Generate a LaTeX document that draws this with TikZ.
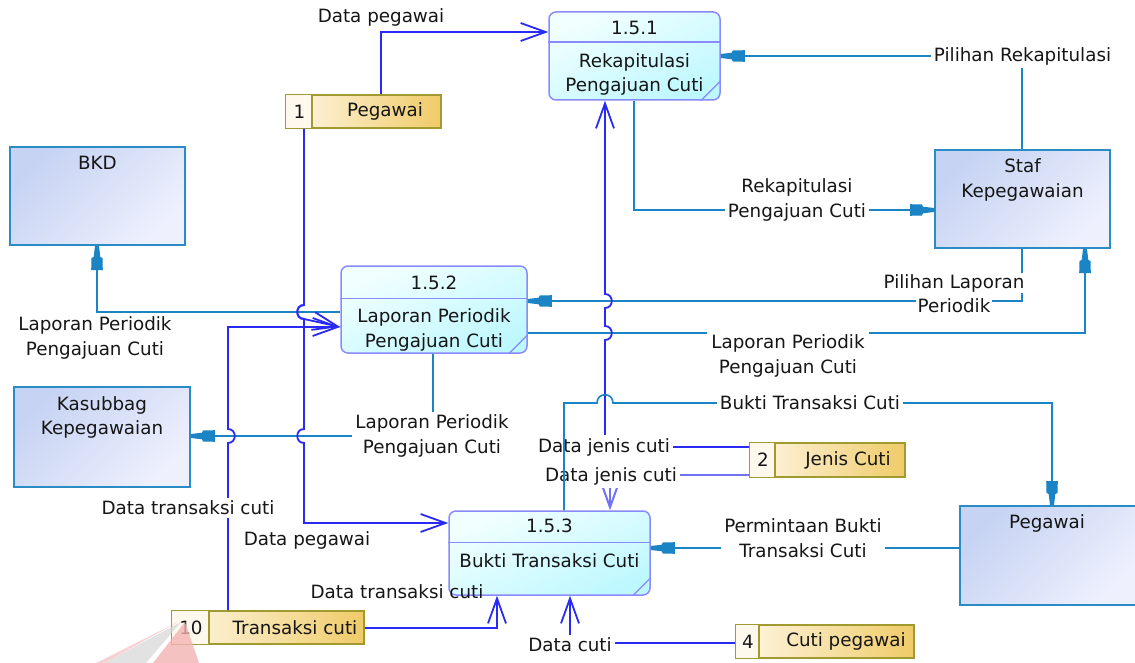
\documentclass[tikz,border=0pt]{standalone}
\usepackage{fontspec}
\newfontfamily\dv{DejaVu Sans}
\usetikzlibrary{arrows.meta,calc}

\definecolor{entline}{HTML}{2A8BC5}
\definecolor{entA}{HTML}{C6D3F3}
\definecolor{entB}{HTML}{EEF0FD}
\definecolor{procline}{HTML}{8A8AFF}
\definecolor{procA}{HTML}{F2FFFF}
\definecolor{procB}{HTML}{BEF8FF}
\definecolor{storeline}{HTML}{A09A30}
\definecolor{storeA}{HTML}{FFF7E6}
\definecolor{storeB}{HTML}{EFCB68}
\definecolor{numfill}{HTML}{FFF8EC}
\definecolor{flowblue}{HTML}{2A2AF6}
\definecolor{flowpale}{HTML}{7272F4}
\definecolor{flowcyan}{HTML}{1A84C4}
\definecolor{ink}{HTML}{161616}
\definecolor{wmpink}{HTML}{F3B3B3}
\definecolor{wmgray}{HTML}{D6D6D6}

% filled data-flow tip: tapered neck at the point, wide block behind it
\pgfdeclarearrow{
  name = PDtip,
  setup code = {
    \pgfarrowssettipend{24pt}
    \pgfarrowssetlineend{20pt}
    \pgfarrowshullpoint{24pt}{2.2pt}
    \pgfarrowshullpoint{24pt}{-2.2pt}
    \pgfarrowshullpoint{0pt}{5.8pt}
    \pgfarrowshullpoint{0pt}{-5.8pt}
  },
  drawing code = {
    \pgfpathmoveto{\pgfqpoint{24pt}{2.0pt}}
    \pgfpathlineto{\pgfqpoint{13pt}{3.3pt}}
    \pgfpathlineto{\pgfqpoint{12pt}{5.5pt}}
    \pgfpathlineto{\pgfqpoint{0pt}{5.8pt}}
    \pgfpathlineto{\pgfqpoint{0pt}{-5.8pt}}
    \pgfpathlineto{\pgfqpoint{12pt}{-5.5pt}}
    \pgfpathlineto{\pgfqpoint{13pt}{-3.3pt}}
    \pgfpathlineto{\pgfqpoint{24pt}{-2.0pt}}
    \pgfpathclose
    \pgfusepathqfill
  }
}

\newcommand\wbox[1]{{\setlength\fboxsep{1.5pt}\colorbox{white}{#1}}}

\begin{document}
\begin{tikzpicture}[x=1pt,y=-1pt,
  every node/.style={font=\dv\fontsize{18.3pt}{24.5pt}\selectfont, text=ink},
  entity/.style={draw=entline, line width=2pt, top color=entA, bottom color=entB, shading angle=45, inner sep=0pt},
  process/.style={draw=procline, line width=1.5pt, rounded corners=7pt, top color=procA, bottom color=procB, shading angle=25, inner sep=0pt},
  procsep/.style={draw=procline, line width=1.5pt},
  procfold/.style={draw=procline, line width=1.2pt},
  storebox/.style={draw=storeline, line width=2pt, left color=storeA, right color=storeB, inner sep=0pt},
  storesep/.style={draw=storeline, line width=2pt},
  txt/.style={inner sep=0pt, align=center},
  lbl/.style={inner sep=1pt, align=center},
  lblw/.style={lbl, fill=white, inner sep=3pt},
  fb/.style={draw=flowblue, line width=1.8pt},
  fbp/.style={draw=flowpale, line width=2pt},
  fc/.style={draw=flowcyan, line width=1.6pt},
  openarr/.style={-{Straight Barb[length=25pt,width=18pt]}},
  solidarr/.style={-{PDtip}}
]
\path[use as bounding box, fill=white] (0,0) rectangle (1135,663);

% ---------- external entities ----------
\node[entity, minimum width=175pt, minimum height=98pt] (bkd) at (97.5,196) {};
\node[txt] (bkdT) at (97.5,163) {BKD};
\node[entity, minimum width=175pt, minimum height=98pt] (staf) at (1022.5,199) {};
\node[txt] (stafT) at (1022.5,180) {Staf\\Kepegawaian};
\node[entity, minimum width=176pt, minimum height=100pt] (kas) at (102,437) {};
\node[txt] (kasT) at (102,417.5) {Kasubbag\\Kepegawaian};
\node[entity, minimum width=178pt, minimum height=99pt] (pgw) at (1049,555.5) {};
\node[txt] (pgwT) at (1047,523) {Pegawai};

% ---------- processes ----------
\node[process, minimum width=171pt, minimum height=88pt] (p1) at (634.5,56) {};
\draw[procsep] ($(p1.north west)+(0,31)$) -- ($(p1.north east)+(0,31)$);
\draw[procfold] ($(p1.south east)+(-20,0)$) -- ($(p1.south east)+(0,-20)$);
\node[txt] (p1n) at (634.5,28) {1.5.1};
\node[txt] (p1d) at (634.5,74.5) {Rekapitulasi\\Pengajuan Cuti};

\node[process, minimum width=186pt, minimum height=87pt] (p2) at (434,309.5) {};
\draw[procsep] ($(p2.north west)+(0,33)$) -- ($(p2.north east)+(0,33)$);
\draw[procfold] ($(p2.south east)+(-19,0)$) -- ($(p2.south east)+(0,-19)$);
\node[txt] (p2n) at (434,283) {1.5.2};
\node[txt] (p2d) at (434,330) {Laporan Periodik\\Pengajuan Cuti};

\node[process, minimum width=201pt, minimum height=84pt] (p3) at (549.5,553) {};
\draw[procsep] ($(p3.north west)+(0,32)$) -- ($(p3.north east)+(0,32)$);
\draw[procfold] ($(p3.south east)+(-18,0)$) -- ($(p3.south east)+(0,-18)$);
\node[txt] (p3n) at (549.5,526) {1.5.3};
\node[txt] (p3d) at (549.5,561) {Bukti Transaksi Cuti};

% ---------- data stores ----------
\node[storebox, minimum width=155pt, minimum height=33pt] (s1) at (363.5,111.5) {};
\fill[numfill] ($(s1.north west)+(1,1)$) rectangle ($(s1.south west)+(27,-1)$);
\draw[storesep] ($(s1.north west)+(27,0)$) -- ($(s1.south west)+(27,0)$);
\node[txt] (s1n) at (299.5,111.5) {1};
\node[txt] (s1t) at (385,111.5) {Pegawai};

\node[storebox, minimum width=155pt, minimum height=34pt] (s2) at (827.5,460) {};
\fill[numfill] ($(s2.north west)+(1,1)$) rectangle ($(s2.south west)+(26,-1)$);
\draw[storesep] ($(s2.north west)+(26,0)$) -- ($(s2.south west)+(26,0)$);
\node[txt] (s2n) at (763,460) {2};
\node[txt] (s2t) at (848,460) {Jenis Cuti};

\node[storebox, minimum width=192pt, minimum height=33pt] (s10) at (268,627.5) {};
\fill[numfill] ($(s10.north west)+(1,1)$) rectangle ($(s10.south west)+(38,-1)$);
\draw[storesep] ($(s10.north west)+(38,0)$) -- ($(s10.south west)+(38,0)$);
\node[txt] (s10n) at (191,627.5) {10};
\node[txt] (s10t) at (295,627.5) {Transaksi cuti};

\node[storebox, minimum width=178pt, minimum height=33pt] (s4) at (825,641.5) {};
\fill[numfill] ($(s4.north west)+(1,1)$) rectangle ($(s4.south west)+(24,-1)$);
\draw[storesep] ($(s4.north west)+(24,0)$) -- ($(s4.south west)+(24,0)$);
\node[txt] (s4n) at (748,641.5) {4};
\node[txt] (s4t) at (846,641.5) {Cuti pegawai};

% ---------- bend and crossing points ----------
\coordinate (b1) at (381,32);
\coordinate (j1) at (304,312);
\coordinate (k2) at (341,327);
\coordinate (j2) at (304,436);
\coordinate (b3) at (304,523);
\coordinate (j3) at (228,436);
\coordinate (b4) at (228,327);
\coordinate (b5) at (97,312);
\coordinate (b6) at (433,436);
\coordinate (b7) at (634,210);
\coordinate (b8) at (1022,56);
\coordinate (b9) at (1022,301);
\coordinate (b10) at (1085,333);
\coordinate (b11) at (605,447);
\coordinate (j4) at (605,333);
\coordinate (j5) at (605,301);
\coordinate (b12a) at (564,403);
\coordinate (j6) at (605,403);
\coordinate (b12b) at (1052,403);
\coordinate (b13) at (610,475);
\coordinate (b14) at (960,548);
\coordinate (b15) at (497,628);
\coordinate (b16) at (570,643);

% ---------- flows to and from external entities ----------
\draw[fc, solidarr] (p2.west |- b5) -- (b5) -- (bkd.south -| b5);
\node[lbl] (l5) at (95,338) {Laporan Periodik\\Pengajuan Cuti};

\draw[fc, solidarr] (p2.south -| b6) -- (b6) -- (kas.east |- b6);
\node[lblw] (l6) at (432,436) {Laporan Periodik\\Pengajuan Cuti};

\draw[fc, solidarr] (p1.south -| b7) -- (b7) -- (staf.west |- b7);
\node[lblw] (l7) at (797,200) {Rekapitulasi\\Pengajuan Cuti};

\draw[fc, solidarr] (staf.north -| b8) -- (b8) -- (p1.east |- b8);
\node[lblw] (l8) at (1022.5,56) {Pilihan Rekapitulasi};

\draw[fc, solidarr] (staf.south -| b9) -- (b9) -- (p2.east |- b9);
\node[lbl] (l9) at (954,293.5) {\wbox{Pilihan Laporan}\\\wbox{Periodik}};

\draw[fc, solidarr] (p2.east |- b10) -- (b10) -- (staf.south -| b10);
\node[lblw, inner sep=4pt] (l10) at (788,356) {Laporan Periodik\\Pengajuan Cuti};

\draw[fc, solidarr] (pgw.west |- b14) -- (p3.east |- b14);
\node[lblw] (l14) at (803,538) {Permintaan Bukti\\Transaksi Cuti};

% ---------- flows to and from data stores ----------
\draw[fb, openarr] (s1.north -| b1) -- (b1) -- (p1.west |- b1);
\node[lbl] (l1) at (381,17) {Data pegawai};

\draw[fb, openarr] (s1.south -| j1) -- ($(j1)+(0,-7)$)
  .. controls ($(j1)+(-9,-7)$) and ($(j1)+(-9,7)$) .. ($(j1)+(0,7)$)
  -- (p2.west |- k2);

\draw[fb, openarr] (s1.south -| j1) -- ($(j1)+(0,-7)$)
  .. controls ($(j1)+(-9,-7)$) and ($(j1)+(-9,7)$) .. ($(j1)+(0,7)$)
  -- ($(j2)+(0,-7)$)
  .. controls ($(j2)+(-9,-7)$) and ($(j2)+(-9,7)$) .. ($(j2)+(0,7)$)
  -- (b3) -- (p3.west |- b3);
\node[lbl] (l3) at (307,540) {Data pegawai};

\draw[fb, openarr] (s10.north -| j3) -- ($(j3)+(0,7)$)
  .. controls ($(j3)+(9,7)$) and ($(j3)+(9,-7)$) .. ($(j3)+(0,-7)$)
  -- (b4) -- (p2.west |- k2);
\node[lblw] (l4) at (188,508) {Data transaksi cuti};

\draw[fb, openarr] (s2.west |- b11) -- (b11) -- ($(j4)+(0,7)$)
  .. controls ($(j4)+(9,7)$) and ($(j4)+(9,-7)$) .. ($(j4)+(0,-7)$)
  -- ($(j5)+(0,7)$)
  .. controls ($(j5)+(9,7)$) and ($(j5)+(9,-7)$) .. ($(j5)+(0,-7)$)
  -- (p1.south -| b11);
\node[lblw] (l11) at (604,447) {Data jenis cuti};

\draw[fbp, openarr] (s2.west |- b13) -- (b13) -- (p3.north -| b13);
\node[lblw] (l13) at (611,476) {Data jenis cuti};

\draw[fb, openarr] (s10.east |- b15) -- (b15) -- (p3.south -| b15);
\node[lbl] (l15) at (397,592) {Data transaksi cuti};

\draw[fb, openarr] (s4.west |- b16) -- (b16) -- (p3.south -| b16);
\node[lblw] (l16) at (570,645) {Data cuti};

% receipt flow, hopping over the blue line
\draw[fc, solidarr] (p3.north -| b12a) -- (b12a) -- ($(j6)+(-8,0)$)
  .. controls ($(j6)+(-8,-11)$) and ($(j6)+(8,-11)$) .. ($(j6)+(8,0)$)
  -- (b12b) -- (pgw.north -| b12b);
\node[lblw] (l12) at (810,403) {Bukti Transaksi Cuti};

% ---------- faint logo mark, lower left ----------
\fill[wmgray, opacity=0.7] (181,622) -- (104,663) -- (146,663) -- cycle;
\fill[wmpink, opacity=0.8] (185,622) -- (153,663) -- (199,663) -- cycle;
\fill[wmpink, opacity=0.6] (178,622) -- (96,663) -- (104,663) -- cycle;
\end{tikzpicture}
\end{document}
